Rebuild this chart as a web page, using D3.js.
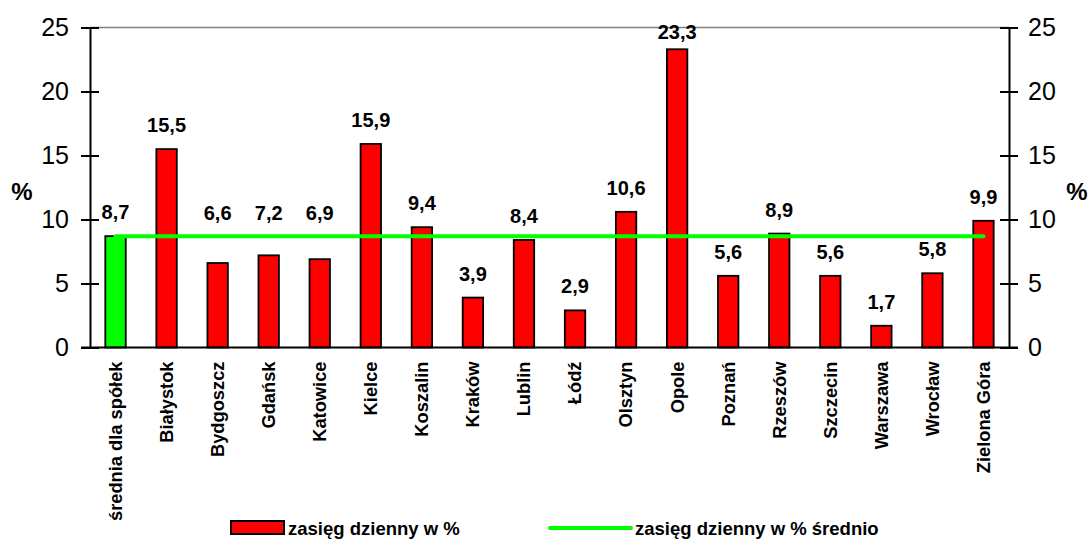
<!DOCTYPE html>
<html><head><meta charset="utf-8">
<script src="https://cdn.jsdelivr.net/npm/d3@7/dist/d3.min.js"></script>
<style>
body{margin:0;background:#fff;}
text{font-family:"Liberation Sans",Arial,sans-serif;}
</style></head>
<body><svg id="c" width="1092" height="539"></svg>
<script>
const categories = ["średnia dla spółek","Białystok","Bydgoszcz","Gdańsk","Katowice","Kielce","Koszalin","Kraków","Lublin","Łódź","Olsztyn","Opole","Poznań","Rzeszów","Szczecin","Warszawa","Wrocław","Zielona Góra"];
const dailyRange = [8.7,15.5,6.6,7.2,6.9,15.9,9.4,3.9,8.4,2.9,10.6,23.3,5.6,8.9,5.6,1.7,5.8,9.9];
const dailyRangeAvg = [8.7,8.7,8.7,8.7,8.7,8.7,8.7,8.7,8.7,8.7,8.7,8.7,8.7,8.7,8.7,8.7,8.7,8.7];
const yTicks = [0,5,10,15,20,25];
const seriesNames = ["zasięg dzienny w %","zasięg dzienny w % średnio"];

const svg = d3.select("#c");
const L = 90, R = 1009, T = 27.5, B = 347.5;
const x = d3.scaleBand().domain(categories).range([L, R]).padding(0);
const y = d3.scaleLinear().domain([0, 25]).range([B, T]);
const fmt = v => String(v).replace(".", ",");
const bw = x.bandwidth() * 0.4;

// top gridline
svg.append("line").attr("x1", L).attr("x2", R).attr("y1", y(25)).attr("y2", y(25))
  .attr("stroke", "#808080").attr("stroke-width", 1.5);

// bars
svg.append("g").selectAll("rect").data(categories).join("rect")
  .attr("x", d => x(d) + x.bandwidth()/2 - bw/2)
  .attr("y", (d,i) => y(dailyRange[i]))
  .attr("width", bw)
  .attr("height", (d,i) => y(0) - y(dailyRange[i]))
  .attr("fill", (d,i) => i === 0 ? "#00ff00" : "#ff0000")
  .attr("stroke", "#000").attr("stroke-width", 1.8);

// average line
const line = d3.line().x((d,i) => x(categories[i]) + x.bandwidth()/2).y(d => y(d));
svg.append("path").datum(dailyRangeAvg).attr("d", line)
  .attr("fill", "none").attr("stroke", "#00ff00").attr("stroke-width", 4).attr("stroke-linecap", "round");

// axes
const axL = d3.axisLeft(y).tickValues(yTicks).tickSizeInner(9).tickSizeOuter(0).tickPadding(12);
const axR = d3.axisRight(y).tickValues(yTicks).tickSizeInner(9).tickSizeOuter(0).tickPadding(10);
function styleAxis(g, side) {
  g.select(".domain").attr("stroke", "#000").attr("stroke-width", 2);
  g.selectAll(".tick line").attr("stroke", "#000").attr("stroke-width", 2)
    .attr("x1", side === "l" ? 9 : -9);
  g.selectAll(".tick text").attr("font-size", 25).attr("fill", "#000")
    .attr("font-family", "Liberation Sans, Arial, sans-serif");
}
svg.append("g").attr("transform", `translate(${L},0)`).call(axL).call(g => styleAxis(g, "l"));
svg.append("g").attr("transform", `translate(${R},0)`).call(axR).call(g => styleAxis(g, "r"));
// x axis baseline
svg.append("line").attr("x1", L - 9).attr("x2", R + 9).attr("y1", y(0)).attr("y2", y(0))
  .attr("stroke", "#000").attr("stroke-width", 2);

// % titles
svg.append("text").attr("x", 22).attr("y", 200).attr("text-anchor", "middle")
  .attr("font-size", 24).attr("font-weight", "bold").text("%");
svg.append("text").attr("x", 1077).attr("y", 200).attr("text-anchor", "middle")
  .attr("font-size", 24).attr("font-weight", "bold").text("%");

// category labels
svg.append("g").selectAll("text").data(categories).join("text")
  .attr("transform", d => `translate(${x(d) + x.bandwidth()/2},${y(0) + 14}) rotate(-90)`)
  .attr("text-anchor", "end").attr("dy", "0.35em")
  .attr("font-size", 18.3).attr("font-weight", "bold").text(d => d);

// value labels
const yAvg = y(dailyRangeAvg[0]);
svg.append("g").selectAll("text").data(dailyRange).join("text")
  .attr("x", (d,i) => x(categories[i]) + x.bandwidth()/2)
  .attr("y", d => {
    let b = y(d) - 17;
    if (b - 15 <= yAvg + 3 && b >= yAvg - 3) b = yAvg - 16;
    return Math.max(b, y(25) + 11);
  })
  .attr("text-anchor", "middle").attr("font-size", 20).attr("font-weight", "bold")
  .text(d => fmt(d));

// legend
const lg = svg.append("g");
lg.append("rect").attr("x", 231).attr("y", 521).attr("width", 53).attr("height", 13)
  .attr("fill", "#ff0000").attr("stroke", "#000").attr("stroke-width", 2);
lg.append("text").attr("x", 288).attr("y", 535).attr("font-size", 18.5).attr("font-weight", "bold").text(seriesNames[0]);
lg.append("line").attr("x1", 550).attr("x2", 631).attr("y1", 528).attr("y2", 528)
  .attr("stroke", "#00ff00").attr("stroke-width", 4).attr("stroke-linecap", "round");
lg.append("text").attr("x", 635).attr("y", 535).attr("font-size", 18.5).attr("font-weight", "bold").text(seriesNames[1]);
</script></body></html>
